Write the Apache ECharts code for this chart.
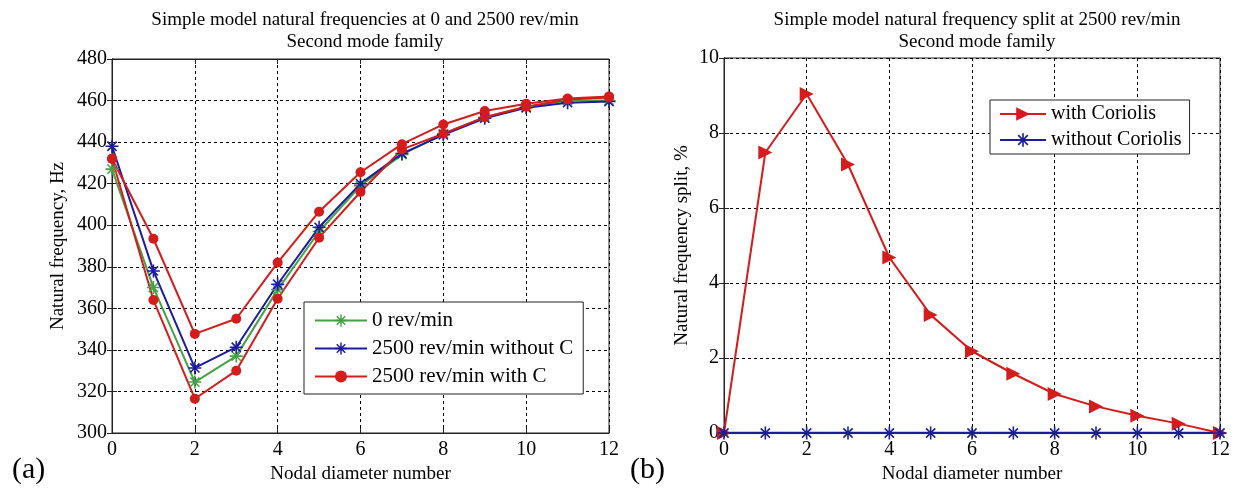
<!DOCTYPE html>
<html>
<head>
<meta charset="utf-8">
<script src="https://cdn.jsdelivr.net/npm/echarts@6/dist/echarts.min.js"></script>
<style>
  html, body { margin: 0; padding: 0; background: #fff; }
  #chart { width: 1245px; height: 493px; }
</style>
</head>
<body>
<div id="chart"></div>
<script>
// Nodal diameter numbers (shared x values)
const nodalDiameters = [0, 1, 2, 3, 4, 5, 6, 7, 8, 9, 10, 11, 12];

// (a) natural frequencies, Hz
const freqStationary = [427, 370, 324.5, 337, 369, 397, 419, 434, 444, 452, 457, 460, 460];
const freqNoCoriolis = [438, 378, 331.3, 341.3, 371.6, 399, 420, 434.5, 443.5, 451.5, 456.5, 459, 459.5];
const freqCoriolisUpper = [432, 393.5, 347.7, 355, 382, 406.5, 425.5, 439, 448.5, 455, 458.5, 461, 462];
const freqCoriolisLower = [432, 364, 316.5, 330, 364.6, 394, 416, 436.5, 444, 452, 457, 460.5, 461.5];

// (b) natural frequency split, %
const splitWithCoriolis = [0, 7.48, 9.04, 7.16, 4.68, 3.15, 2.18, 1.58, 1.04, 0.71, 0.46, 0.25, 0];
const splitWithoutCoriolis = [0, 0, 0, 0, 0, 0, 0, 0, 0, 0, 0, 0, 0];

// Axis ticks
const xTicks = { min: 0, max: 12, interval: 2 };
const yTicksA = { min: 300, max: 480, interval: 20 };
const yTicksB = { min: 0, max: 10, interval: 2 };

const GREEN = '#46a046';
const BLUE = '#1c1c9c';
const RED = '#d41c1c';
const FONT = '"Liberation Serif", "Times New Roman", serif';

// Eight-armed asterisk marker built from four thin bars
function asteriskPath() {
  const hw = 0.12;
  let d = '';
  for (let k = 0; k < 4; k++) {
    const a = k * Math.PI / 4;
    const c = Math.cos(a), s = Math.sin(a);
    const nx = -s * hw, ny = c * hw;
    const pts = [[-c + nx, -s + ny], [c + nx, s + ny], [c - nx, s - ny], [-c - nx, -s - ny]];
    d += 'M' + pts.map(p => ((p[0] + 1) * 10).toFixed(3) + ',' + ((p[1] + 1) * 10).toFixed(3)).join('L') + 'Z';
  }
  return 'path://' + d;
}
const STAR = asteriskPath();
const TRIANGLE_RIGHT = 'path://M0,0L10,5L0,10Z';

const pairs = ys => nodalDiameters.map((x, i) => [x, ys[i]]);

const gridLine = { show: true, lineStyle: { color: '#000', width: 1, type: [3, 3] } };
const axisLine = { show: true, lineStyle: { color: '#222', width: 1 } };
const tick = { show: true, inside: true, length: 5, lineStyle: { color: '#222' } };
const tickLabel = { color: '#000', fontFamily: FONT, fontSize: 20 };
const nameText = { color: '#000', fontFamily: FONT, fontSize: 19 };

function xAxisPair(gridIndex) {
  return [
    Object.assign({ type: 'value', gridIndex, position: 'bottom',
      name: 'Nodal diameter number', nameLocation: 'middle', nameGap: 21, nameTextStyle: nameText,
      axisLine, axisTick: tick, axisLabel: Object.assign({ margin: 7 }, tickLabel), splitLine: gridLine }, xTicks),
    Object.assign({ type: 'value', gridIndex, position: 'top',
      axisLine, axisTick: tick, axisLabel: { show: false }, splitLine: { show: false } }, xTicks)
  ];
}
function yAxisPair(gridIndex, ticks, name, gap) {
  return [
    Object.assign({ type: 'value', gridIndex, position: 'left',
      name, nameLocation: 'middle', nameGap: gap, nameTextStyle: nameText,
      axisLine, axisTick: tick, axisLabel: Object.assign({ margin: 5 }, tickLabel), splitLine: gridLine }, ticks),
    Object.assign({ type: 'value', gridIndex, position: 'right',
      axisLine, axisTick: tick, axisLabel: { show: false }, splitLine: { show: false } }, ticks)
  ];
}

function lineSeries(name, data, color, symbol, size, xi, yi, width) {
  return {
    type: 'line', name, data: pairs(data), xAxisIndex: xi, yAxisIndex: yi,
    symbol, symbolSize: size, symbolKeepAspect: true, showAllSymbol: true,
    itemStyle: { color }, lineStyle: { color, width: width || 2 },
    emphasis: { disabled: true }, animation: false
  };
}

const chart = echarts.init(document.getElementById('chart'), null, { renderer: 'canvas' });
chart.setOption({
  backgroundColor: '#fff',
  title: [
    { text: 'Simple model natural frequencies at 0 and 2500 rev/min\nSecond mode family',
      left: 360, top: 4, textAlign: 'center',
      textStyle: { fontFamily: FONT, fontSize: 19, fontWeight: 'normal', color: '#000', lineHeight: 22 } },
    { text: 'Simple model natural frequency split at 2500 rev/min\nSecond mode family',
      left: 972, top: 4, textAlign: 'center',
      textStyle: { fontFamily: FONT, fontSize: 19, fontWeight: 'normal', color: '#000', lineHeight: 22 } },
    { text: '(a)', left: 7, top: 450,
      textStyle: { fontFamily: FONT, fontSize: 30, fontWeight: 'normal', color: '#000' } },
    { text: '(b)', left: 625, top: 450,
      textStyle: { fontFamily: FONT, fontSize: 30, fontWeight: 'normal', color: '#000' } }
  ],
  legend: [
    { data: ['0 rev/min', '2500 rev/min without C', '2500 rev/min with C'],
      orient: 'vertical', left: 304, top: 302, itemWidth: 52, itemHeight: 15, itemGap: 7,
      padding: [8, 10, 7, 10], borderColor: '#222', borderWidth: 1, backgroundColor: '#fff',
      textStyle: { fontFamily: FONT, fontSize: 21, color: '#000' }, selectedMode: false },
    { data: ['with Coriolis', 'without Coriolis'],
      orient: 'vertical', left: 990, top: 100, itemWidth: 46, itemHeight: 17, itemGap: 6,
      padding: [4, 8, 4, 9], borderColor: '#222', borderWidth: 1, backgroundColor: '#fff',
      textStyle: { fontFamily: FONT, fontSize: 20, color: '#000' }, selectedMode: false }
  ],
  grid: [
    { left: 112, top: 59, width: 497, height: 374, show: true, borderColor: '#222', borderWidth: 1, backgroundColor: '#fff' },
    { left: 724, top: 58, width: 496, height: 375, show: true, borderColor: '#222', borderWidth: 1, backgroundColor: '#fff' }
  ],
  xAxis: [...xAxisPair(0), ...xAxisPair(1)],
  yAxis: [...yAxisPair(0, yTicksA, 'Natural frequency, Hz', 44), ...yAxisPair(1, yTicksB, 'Natural frequency split, %', 32)],
  series: [
    lineSeries('0 rev/min', freqStationary, GREEN, STAR, 13, 0, 0),
    lineSeries('2500 rev/min without C', freqNoCoriolis, BLUE, STAR, 13, 0, 0),
    lineSeries('2500 rev/min with C', freqCoriolisLower, RED, 'circle', 10, 0, 0),
    lineSeries('2500 rev/min with C', freqCoriolisUpper, RED, 'circle', 10, 0, 0),
    lineSeries('with Coriolis', splitWithCoriolis, RED, TRIANGLE_RIGHT, 14, 2, 2),
    lineSeries('without Coriolis', splitWithoutCoriolis, BLUE, STAR, 13, 2, 2, 2.5)
  ]
});
</script>
</body>
</html>
